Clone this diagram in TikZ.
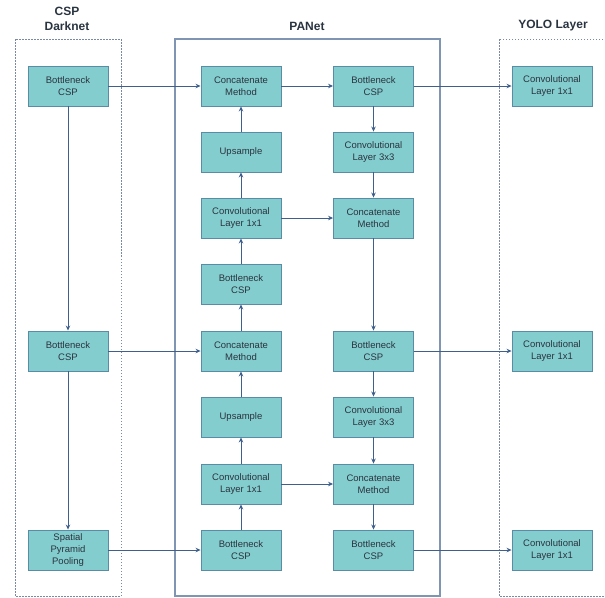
\documentclass[tikz,border=0pt]{standalone}
\usepackage{fontspec}
\setmainfont{Liberation Sans}
\usetikzlibrary{arrows.meta}
\definecolor{boxfill}{HTML}{84CDCE}
\definecolor{boxedge}{HTML}{5A8CA8}
\definecolor{linec}{HTML}{3F5F8C}
\definecolor{panetc}{HTML}{7F95B2}
\definecolor{dashc}{HTML}{7A8AA6}
\definecolor{txt}{HTML}{2A3440}
\begin{document}
\begin{tikzpicture}[x=1pt,y=-1pt,
  blk/.style={draw=boxedge,line width=0.9pt,fill=boxfill,minimum width=80pt,minimum height=40pt,
    align=center,inner sep=1pt,font=\fontsize{9.5}{12}\selectfont,text=txt},
  ttl/.style={font=\fontsize{12}{15}\selectfont\bfseries,text=txt,align=center},
  conn/.style={draw=linec,line width=0.7pt,-{Stealth[length=5pt,width=4.5pt]}},
  grp/.style={draw=dashc,line width=0.8pt,dash pattern=on 1.5pt off 1.5pt}]
\useasboundingbox (0,0) rectangle (605,597);
% group frames
\draw[grp] (15,39) rectangle (121,596);
\draw[draw=panetc,line width=1.1pt] (175,39) rectangle (440,596);
\begin{scope}
\clip (0,0) rectangle (605,597);
\draw[grp] (499,39) rectangle (612,596);
\end{scope}
% titles
\node[ttl] (tcsp) at (67,19) {CSP\\Darknet};
\node[ttl] (tpan) at (307,26) {PANet};
\node[ttl] (tyolo) at (553,26) {YOLO Layer};
% left column
\node[blk] (l1) at (68,86) {Bottleneck\\CSP};
\node[blk] (l5) at (68,351) {Bottleneck\\CSP};
\node[blk] (l8) at (68,550) {Spatial\\Pyramid\\Pooling};
% PANet column 1
\node[blk] (a1) at (241,86) {Concatenate\\Method};
\node[blk] (a2) at (241,152) {Upsample};
\node[blk] (a3) at (241,218) {Convolutional\\Layer 1x1};
\node[blk] (a4) at (241,284) {Bottleneck\\CSP};
\node[blk] (a5) at (241,351) {Concatenate\\Method};
\node[blk] (a6) at (241,417) {Upsample};
\node[blk] (a7) at (241,484) {Convolutional\\Layer 1x1};
\node[blk] (a8) at (241,550) {Bottleneck\\CSP};
% PANet column 2
\node[blk] (b1) at (373.5,86) {Bottleneck\\CSP};
\node[blk] (b2) at (373.5,152) {Convolutional\\Layer 3x3};
\node[blk] (b3) at (373.5,218) {Concatenate\\Method};
\node[blk] (b5) at (373.5,351) {Bottleneck\\CSP};
\node[blk] (b6) at (373.5,417) {Convolutional\\Layer 3x3};
\node[blk] (b7) at (373.5,484) {Concatenate\\Method};
\node[blk] (b8) at (373.5,550) {Bottleneck\\CSP};
% YOLO column
\node[blk] (y1) at (552,86) {Convolutional\\Layer 1x1};
\node[blk] (y5) at (552,351) {Convolutional\\Layer 1x1};
\node[blk] (y8) at (552,550) {Convolutional\\Layer 1x1};
% connectors
\draw[conn] (l1) -- (a1);
\draw[conn] (l1) -- (l5);
\draw[conn] (l5) -- (l8);
\draw[conn] (l5) -- (a5);
\draw[conn] (l8) -- (a8);
\draw[conn] (a8) -- (a7);
\draw[conn] (a7) -- (a6);
\draw[conn] (a6) -- (a5);
\draw[conn] (a5) -- (a4);
\draw[conn] (a4) -- (a3);
\draw[conn] (a3) -- (a2);
\draw[conn] (a2) -- (a1);
\draw[conn] (a1) -- (b1);
\draw[conn] (b1) -- (b2);
\draw[conn] (b2) -- (b3);
\draw[conn] (a3) -- (b3);
\draw[conn] (b3) -- (b5);
\draw[conn] (b5) -- (b6);
\draw[conn] (b6) -- (b7);
\draw[conn] (a7) -- (b7);
\draw[conn] (b7) -- (b8);
\draw[conn] (b1) -- (y1);
\draw[conn] (b5) -- (y5);
\draw[conn] (b8) -- (y8);
\end{tikzpicture}
\end{document}
